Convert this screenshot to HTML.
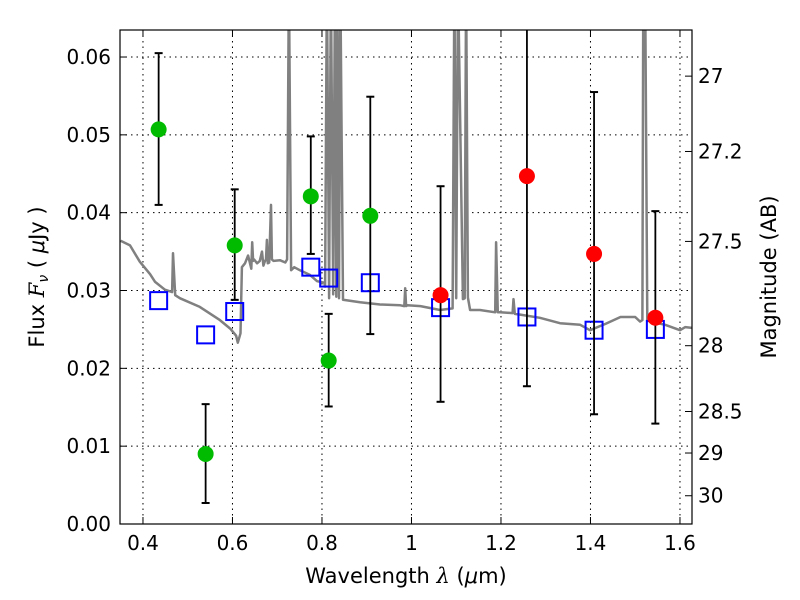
<!DOCTYPE html>
<html><head><meta charset="utf-8"><style>body{margin:0;background:#fff}svg{display:block;font-family:"DejaVu Sans","Liberation Sans",sans-serif}</style></head>
<body>
<svg id="chart" width="800" height="600" xmlns="http://www.w3.org/2000/svg">
<defs><clipPath id="clip"><rect x="120" y="30" width="572" height="494"/></clipPath></defs>
<rect x="0" y="0" width="800" height="600" fill="#fff"/>
<g id="grid"></g>
<g id="spec" clip-path="url(#clip)"></g>
<g id="marks" clip-path="url(#clip)"></g>
<rect x="120" y="30" width="572" height="494" fill="none" stroke="#000" stroke-width="1.2"/>
<g id="axes"></g>
<text x="406" y="583" font-size="21" text-anchor="middle">Wavelength  <tspan font-style="italic" font-family="DejaVu Serif,serif">λ</tspan> (<tspan font-style="italic">μ</tspan>m)</text>
<text transform="translate(44,277) rotate(-90)" font-size="21" text-anchor="middle">Flux  <tspan font-style="italic" font-family="DejaVu Serif,serif">F</tspan><tspan font-size="14" font-style="italic" dy="4">ν</tspan><tspan dy="-4">  ( </tspan><tspan font-style="italic">μ</tspan>Jy )</text>
<text transform="translate(776,277) rotate(-90)" font-size="21" text-anchor="middle">Magnitude (AB)</text>
</svg>
<script>
const xTicks=[0.4,0.6,0.8,1.0,1.2,1.4,1.6];
const xTickLabels=["0.4","0.6","0.8","1","1.2","1.4","1.6"];
const yTicks=[0,0.01,0.02,0.03,0.04,0.05,0.06];
const yTickLabels=["0.00","0.01","0.02","0.03","0.04","0.05","0.06"];
const magTicks=[27,27.2,27.5,28,28.5,29,30];
const magTickLabels=["27","27.2","27.5","28","28.5","29","30"];
const greenWave=[0.435,0.54,0.605,0.775,0.815,0.908];
const greenFlux=[0.0507,0.009,0.0358,0.0421,0.021,0.0396];
const greenLo=[0.041,0.0027,0.0288,0.0347,0.0151,0.0244];
const greenHi=[0.0605,0.0154,0.043,0.0498,0.027,0.0549];
const redWave=[1.065,1.258,1.408,1.545];
const redFlux=[0.0294,0.0447,0.0347,0.0265];
const redLo=[0.0157,0.0177,0.0141,0.0129];
const redHi=[0.0434,0.07,0.0555,0.0402];
const modelWave=[0.435,0.54,0.605,0.775,0.815,0.908,1.065,1.258,1.408,1.545];
const modelFlux=[0.0287,0.0243,0.0273,0.033,0.0316,0.031,0.0278,0.0266,0.0249,0.025];
const specWave=[0.35,0.371,0.393,0.416,0.427,0.449,0.465,0.467,0.472,0.483,0.527,0.572,0.595,0.608,0.612,0.618,0.621,0.628,0.635,0.642,0.644,0.646,0.648,0.655,0.661,0.666,0.669,0.672,0.675,0.677,0.679,0.682,0.686,0.688,0.692,0.706,0.718,0.722,0.726,0.731,0.738,0.751,0.773,0.789,0.805,0.807,0.811,0.816,0.82,0.825,0.829,0.832,0.834,0.838,0.841,0.847,0.885,0.93,0.975,0.984,0.986,0.988,0.991,1.02,1.064,1.092,1.096,1.1,1.104,1.115,1.119,1.122,1.126,1.131,1.153,1.187,1.189,1.193,1.198,1.226,1.228,1.231,1.243,1.287,1.332,1.377,1.399,1.433,1.467,1.5,1.511,1.516,1.518,1.522,1.527,1.533,1.567,1.6,1.612,1.627];
const specFlux=[0.0364,0.0358,0.0337,0.0321,0.0311,0.0301,0.0298,0.0348,0.0294,0.029,0.0279,0.0262,0.0251,0.0242,0.0233,0.0245,0.033,0.0335,0.0345,0.0328,0.0362,0.0338,0.034,0.0335,0.0338,0.035,0.0332,0.0337,0.034,0.0365,0.0335,0.0336,0.041,0.034,0.0338,0.0339,0.0336,0.034,0.07,0.0326,0.033,0.0326,0.032,0.0312,0.031,0.0305,0.07,0.029,0.07,0.0295,0.07,0.0292,0.07,0.029,0.07,0.0288,0.0285,0.0282,0.0281,0.028,0.0303,0.028,0.0281,0.028,0.0275,0.0277,0.07,0.029,0.07,0.0289,0.029,0.07,0.0291,0.0275,0.0275,0.0272,0.0362,0.0272,0.0272,0.0271,0.0289,0.027,0.0269,0.0265,0.0258,0.0256,0.0249,0.0257,0.0266,0.0266,0.026,0.0262,0.07,0.07,0.0262,0.026,0.0256,0.0249,0.0253,0.0252];
const NS="http://www.w3.org/2000/svg";
const X=l=>120.6+(l-0.35)*447.5;
const Y=f=>524-f*7783;
const M=m=>Y(Math.pow(10,(23.9-m)/2.5));
function el(t,a,p){const e=document.createElementNS(NS,t);for(const k in a)e.setAttribute(k,a[k]);document.getElementById(p).appendChild(e);return e;}
xTicks.forEach((v,i)=>{
 const g=el('line',{x1:X(v),x2:X(v),y1:30,y2:524,stroke:'#000','stroke-width':1,'stroke-dasharray':'1.5,4'},'grid');
 
 el('line',{x1:X(v),x2:X(v),y1:524,y2:517,stroke:'#000'},'axes');
 el('line',{x1:X(v),x2:X(v),y1:30,y2:37,stroke:'#000'},'axes');
 const t=el('text',{x:X(v),y:550,'font-size':20,'text-anchor':'middle'},'axes');t.textContent=xTickLabels[i];
 
});
yTicks.forEach((v,i)=>{
 if(v>0){const g=el('line',{x1:120,x2:692,y1:Y(v),y2:Y(v),stroke:'#000','stroke-width':1,'stroke-dasharray':'1.5,4'},'grid');
 }
 el('line',{x1:120,x2:127,y1:Y(v),y2:Y(v),stroke:'#000'},'axes');
 const t=el('text',{x:111,y:Y(v)+7,'font-size':20,'text-anchor':'end'},'axes');t.textContent=yTickLabels[i];
 
});
magTicks.forEach((m,i)=>{
 el('line',{x1:692,x2:685,y1:M(m),y2:M(m),stroke:'#000'},'axes');
 const t=el('text',{x:698,y:M(m)+7,'font-size':20},'axes');t.textContent=magTickLabels[i];
 
});
let d='';specWave.forEach((w,i)=>{d+=(i?'L':'M')+X(w).toFixed(1)+','+Y(specFlux[i]).toFixed(1);});
const sp=el('path',{d:d,fill:'none',stroke:'#808080','stroke-width':2.5,'stroke-linejoin':'round'},'spec');

modelWave.forEach((w,i)=>{
 const r=el('rect',{x:X(w)-8.5,y:Y(modelFlux[i])-8.5,width:17,height:17,fill:'none',stroke:'#0000ff','stroke-width':2},'marks');
 
});
function pts(W,F,L,H,col,name){W.forEach((w,i)=>{
 const x=X(w);
 el('line',{x1:x,x2:x,y1:Y(L[i]),y2:Y(H[i]),stroke:'#000','stroke-width':1.8},'marks');
 el('line',{x1:x-4,x2:x+4,y1:Y(L[i]),y2:Y(L[i]),stroke:'#000','stroke-width':2},'marks');
 el('line',{x1:x-4,x2:x+4,y1:Y(H[i]),y2:Y(H[i]),stroke:'#000','stroke-width':2},'marks');
 const c=el('circle',{cx:x,cy:Y(F[i]),r:8,fill:col},'marks');
 
});}
pts(greenWave,greenFlux,greenLo,greenHi,'#00bb00','green-point');
pts(redWave,redFlux,redLo,redHi,'#ff0000','red-point');
</script>
</body></html>
